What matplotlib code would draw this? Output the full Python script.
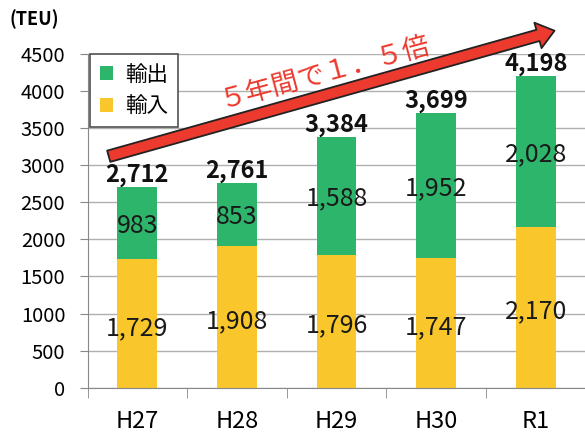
import matplotlib
matplotlib.use('Agg')
import matplotlib.pyplot as plt
from matplotlib.patches import Patch
import numpy as np

plt.rcParams['font.family'] = ['Noto Sans CJK JP', 'DejaVu Sans']

# Data (TEU)
years = ['H27', 'H28', 'H29', 'H30', 'R1']
imports = [1729, 1908, 1796, 1747, 2170]   # 輸入
exports = [983, 853, 1588, 1952, 2028]     # 輸出
totals = [2712, 2761, 3384, 3699, 4198]

green = '#2DB56B'
yellow = '#F9C72B'
red = '#EC3A2E'

fig = plt.figure(figsize=(5.85, 4.37), dpi=100)
ax = fig.add_axes([0.1496, 0.1128, 0.8574, 0.7636])

x = np.arange(len(years))
ax.bar(x, imports, width=0.4, color=yellow, zorder=2)
ax.bar(x, exports, width=0.4, bottom=imports, color=green, zorder=2)

# labels inside the bars (slightly below centre, like the original)
for i in range(len(years)):
    ax.annotate(f'{imports[i]:,}', (x[i], imports[i] / 2), xytext=(0, -3),
                textcoords='offset points', ha='center', va='center',
                fontsize=18, color='#1a1a1a', zorder=3)
    ax.annotate(f'{exports[i]:,}', (x[i], imports[i] + exports[i] / 2), xytext=(0, -2),
                textcoords='offset points', ha='center', va='center',
                fontsize=18, color='#1a1a1a', zorder=3)
    ax.text(x[i], totals[i], f'{totals[i]:,}', ha='center', va='bottom',
            fontsize=17, fontweight='bold', color='#111111', zorder=3)

ax.set_xlim(-0.5, 4.535)
ax.set_ylim(0, 4500)
ax.set_yticks(np.arange(0, 4501, 500))
ax.set_xticks(x)
ax.set_xticklabels(years, fontsize=17)
ax.set_xticks(np.arange(-0.5, 4.6, 1), minor=True)
ax.tick_params(axis='x', which='major', length=0, pad=16)
ax.tick_params(axis='x', which='minor', length=7, color='#888888')
ax.tick_params(axis='y', length=6, color='#888888', pad=10, labelsize=14.5)

ax.grid(axis='y', color='#B0B0B0', linewidth=1, zorder=0)
ax.set_axisbelow(True)
for s in ['top', 'right']:
    ax.spines[s].set_visible(False)
ax.spines['left'].set_color('#888888')
ax.spines['bottom'].set_color('#888888')

fig.text(0.017, 0.955, '(TEU)', fontsize=13, fontweight='bold', ha='left', va='center')

# legend
handles = [Patch(facecolor=green, label='輸出'), Patch(facecolor=yellow, label='輸入')]
leg = ax.legend(handles=handles, loc='upper left', bbox_to_anchor=(0.005, 1.0),
                borderaxespad=0, fontsize=15.5, handlelength=0.6, handleheight=0.6,
                handletextpad=0.6, labelspacing=0.45, borderpad=0.45,
                fancybox=False, framealpha=1)
leg.get_frame().set_edgecolor('#505050')
leg.get_frame().set_linewidth(1.2)
leg.set_zorder(5)

# growth arrow
ann = ax.annotate('', xy=(4.215, 4824), xytext=(-0.314, 3111),
                  arrowprops=dict(arrowstyle='simple,head_length=0.62,head_width=0.95,tail_width=0.42',
                                  mutation_scale=20, fc=red, ec='#222222', lw=1.3),
                  annotation_clip=False, zorder=6)
ann.arrow_patch.set_clip_on(False)
ax.text(1.88, 4244, '５年間で１．５倍', color=red, fontsize=19.5, rotation=15,
        rotation_mode='anchor', ha='center', va='center', zorder=6)

fig.savefig('out.png', dpi=100)
